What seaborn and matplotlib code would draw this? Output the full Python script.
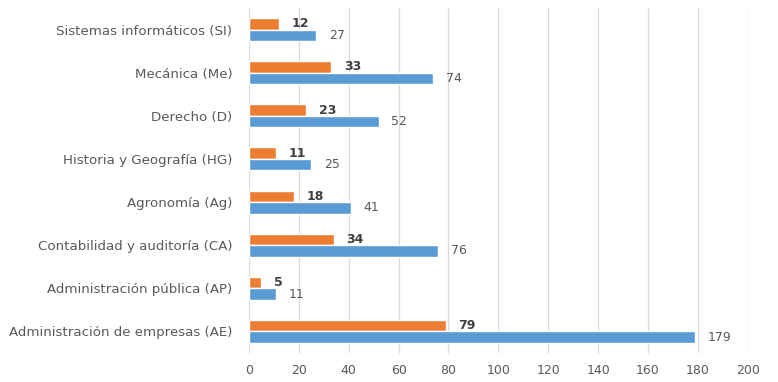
import matplotlib
matplotlib.use("Agg")
import matplotlib.pyplot as plt
import seaborn as sns
import pandas as pd

categories = [
    "Sistemas informáticos (SI)",
    "Mecánica (Me)",
    "Derecho (D)",
    "Historia y Geografía (HG)",
    "Agronomía (Ag)",
    "Contabilidad y auditoría (CA)",
    "Administración pública (AP)",
    "Administración de empresas (AE)",
]
serie_naranja = [12, 33, 23, 11, 18, 34, 5, 79]
serie_azul = [27, 74, 52, 25, 41, 76, 11, 179]
series_names = ["Serie 1", "Serie 2"]
xticks = list(range(0, 201, 20))

df = pd.DataFrame({
    "categoria": categories * 2,
    "valor": serie_naranja + serie_azul,
    "serie": [series_names[0]] * len(categories) + [series_names[1]] * len(categories),
})

sns.set_style("white")
plt.rcParams["font.family"] = ["DejaVu Sans"]

fig = plt.figure(figsize=(7.78, 3.82), dpi=100)
ax = fig.add_axes([0.32, 0.076, 0.641, 0.903])

sns.barplot(data=df, y="categoria", x="valor", hue="serie", order=categories,
            hue_order=series_names, palette=["#ED7D31", "#5B9BD5"],
            width=0.535, orient="h", ax=ax, legend=False, saturation=1)

for i, cont in enumerate(ax.containers):
    ax.bar_label(cont, padding=9, fontsize=9, color="#404040" if i == 0 else "#595959",
                 fontweight="bold" if i == 0 else "normal")

ax.set_xlim(0, 200)
ax.set_ylim(7.5, -0.5)
ax.set_xticks(xticks)
ax.set_xlabel("")
ax.set_ylabel("")
ax.grid(axis="x", color="#D9D9D9", linewidth=0.9)
ax.set_axisbelow(True)
for s in ax.spines.values():
    s.set_visible(False)
ax.tick_params(axis="x", length=0, pad=8, labelsize=9, labelcolor="#595959")
ax.tick_params(axis="y", length=0, pad=12, labelsize=9.6, labelcolor="#595959")

fig.savefig("out.png", dpi=100)
